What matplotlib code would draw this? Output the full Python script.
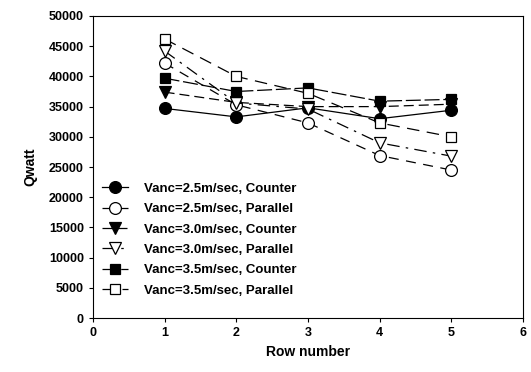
import numpy as np
import matplotlib.pyplot as plt

# データ
rows = [1, 2, 3, 4, 5]
q_25_counter = [34700, 33300, 34800, 33000, 34400]
q_25_parallel = [42200, 35300, 32300, 26900, 24500]
q_30_counter = [37400, 35700, 35000, 35000, 35400]
q_30_parallel = [44200, 35600, 34600, 29000, 26800]
q_35_counter = [39700, 37500, 38100, 35900, 36200]
q_35_parallel = [46200, 40000, 37200, 32300, 30000]

labels = [
    'Vanc=2.5m/sec, Counter',
    'Vanc=2.5m/sec, Parallel',
    'Vanc=3.0m/sec, Counter',
    'Vanc=3.0m/sec, Parallel',
    'Vanc=3.5m/sec, Counter',
    'Vanc=3.5m/sec, Parallel',
]

plt.rcParams['font.family'] = ['Liberation Sans', 'DejaVu Sans']
plt.rcParams['font.weight'] = 'bold'

fig = plt.figure(figsize=(5.31, 3.72), dpi=100)
ax = fig.add_axes([0.175, 0.145, 0.81, 0.812])

series = [
    (q_25_counter, 'o', 'black', '-', 8.5),
    (q_25_parallel, 'o', 'white', (0, (8, 6)), 8.5),
    (q_30_counter, 'v', 'black', (0, (8, 4)), 8.5),
    (q_30_parallel, 'v', 'white', (0, (10, 5, 2, 5)), 8.5),
    (q_35_counter, 's', 'black', (0, (12, 3)), 7),
    (q_35_parallel, 's', 'white', (0, (10, 6)), 7),
]

for (vals, mk, fc, ls, ms), lab in zip(series, labels):
    ax.plot(rows, vals, color='black', linestyle=ls, linewidth=0.9,
            marker=mk, markersize=ms, markerfacecolor=fc,
            markeredgecolor='black', markeredgewidth=0.9, label=lab)

ax.set_xlim(0, 6)
ax.set_ylim(0, 50000)
ax.set_xticks(range(0, 7))
ax.set_yticks(np.arange(0, 50001, 5000))
ax.tick_params(direction='out', length=3, labelsize=9, width=0.8)
for t in ax.get_xticklabels() + ax.get_yticklabels():
    t.set_fontweight('bold')
ax.set_xlabel('Row number', fontsize=10, fontweight='bold')
ax.set_ylabel('Qwatt', fontsize=10, fontweight='bold', labelpad=8)

ax.legend(loc='lower left', bbox_to_anchor=(0.02, 0.07), frameon=False,
          borderaxespad=0, borderpad=0, handlelength=2.0, handletextpad=1.2,
          labelspacing=0.62, prop={'weight': 'bold', 'size': 9.5})

fig.savefig('out.png', dpi=100)
